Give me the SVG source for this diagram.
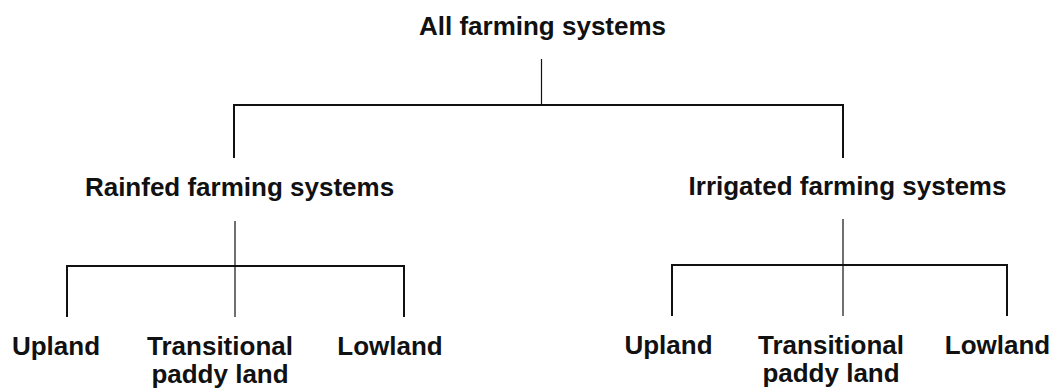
<svg xmlns="http://www.w3.org/2000/svg" width="1056" height="392" viewBox="0 0 1056 392">
<style>
text{font-family:"Liberation Sans",Arial,sans-serif;font-weight:bold;font-size:26px;fill:#111;text-anchor:middle}
.c{fill:none;stroke:#111;stroke-width:2}
.t{fill:none;stroke:#111;stroke-width:1.2}
</style>
<rect width="1056" height="392" fill="#fff"/>
<g id="connectors">
<path class="t" d="M541.5 59V105"/>
<path class="c" d="M234 158V105H843V158"/>
<path class="t" d="M235 221V317"/>
<path class="c" d="M67 317V266H404V317"/>
<path class="t" d="M843 219V316"/>
<path class="c" d="M672 316V265H1007V316"/>
</g>
<g id="all"><text x="542.5" y="35">All farming systems</text></g>
<g id="rainfed"><text x="239.5" y="196">Rainfed farming systems</text></g>
<g id="irrigated"><text x="847.5" y="195">Irrigated farming systems</text></g>
<g id="r-upland"><text x="56" y="355">Upland</text></g>
<g id="r-trans"><text x="220" y="355">Transitional</text><text x="220" y="383">paddy land</text></g>
<g id="r-lowland"><text x="390" y="355">Lowland</text></g>
<g id="i-upland"><text x="668.5" y="354">Upland</text></g>
<g id="i-trans"><text x="831" y="354">Transitional</text><text x="831" y="382">paddy land</text></g>
<g id="i-lowland"><text x="997.5" y="354">Lowland</text></g>
</svg>
